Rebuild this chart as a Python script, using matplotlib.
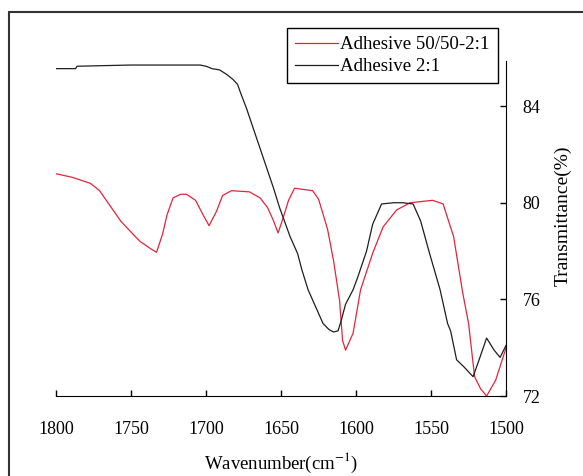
import matplotlib
matplotlib.use("Agg")
import matplotlib.pyplot as plt
from matplotlib.patches import Rectangle

plt.rcParams['font.family'] = ['Liberation Serif', 'DejaVu Serif']
plt.rcParams['mathtext.fontset'] = 'stix'

# FTIR spectra, wavenumber (cm-1) vs transmittance (%)
wn_black = [1800, 1787, 1786, 1750, 1704, 1700, 1696, 1691, 1686, 1682, 1679, 1677,
            1673, 1667, 1661, 1655, 1651, 1644, 1639, 1636, 1632, 1627, 1622, 1618,
            1615, 1612, 1610, 1607, 1602, 1599, 1593, 1589, 1583, 1575, 1569, 1562,
            1557, 1551, 1544, 1539, 1537, 1533, 1528, 1522, 1518, 1513, 1508, 1504, 1500]
tr_black = [85.55, 85.55, 85.65, 85.7, 85.7, 85.65, 85.55, 85.5, 85.3, 85.1, 84.9, 84.55,
            83.9, 82.8, 81.7, 80.6, 79.8, 78.6, 77.9, 77.2, 76.4, 75.7, 75.0, 74.75,
            74.65, 74.7, 75.1, 75.8, 76.4, 76.9, 78.0, 79.1, 79.95, 80.0, 80.0, 79.95,
            79.25, 77.9, 76.4, 75.0, 74.7, 73.5, 73.2, 72.8, 73.5, 74.4, 73.9, 73.6, 74.1]

wn_red = [1800, 1789, 1777, 1771, 1762, 1757, 1751, 1744, 1737, 1733, 1729, 1726, 1722,
          1717, 1713, 1707, 1702, 1698, 1693, 1689, 1683, 1671, 1664, 1659, 1655, 1652,
          1649, 1645, 1641, 1629, 1625, 1619, 1615, 1611, 1609, 1607, 1602, 1597, 1589,
          1582, 1573, 1564, 1549, 1542, 1535, 1529, 1525, 1521, 1517, 1513, 1507, 1500]
tr_red = [81.2, 81.05, 80.8, 80.5, 79.7, 79.25, 78.85, 78.4, 78.1, 77.95, 78.7, 79.5, 80.2,
          80.35, 80.35, 80.1, 79.5, 79.05, 79.65, 80.3, 80.5, 80.45, 80.2, 79.8, 79.25, 78.75,
          79.3, 80.1, 80.6, 80.5, 80.15, 78.9, 77.6, 75.95, 74.3, 73.9, 74.6, 76.4, 77.9,
          79.0, 79.7, 80.0, 80.1, 79.95, 78.6, 76.3, 75.0, 72.8, 72.3, 72.0, 72.65, 74.0]

x_ticks = [1800, 1750, 1700, 1650, 1600, 1550, 1500]
y_ticks = [72, 76, 80, 84]

fig = plt.figure(figsize=(5.83, 4.76), dpi=100)
ax = fig.add_axes([0.0961, 0.168, 0.772, 0.703])

ax.plot(wn_red, tr_red, color='#e0263c', lw=0.9, label='Adhesive 50/50-2:1')
ax.plot(wn_black, tr_black, color='#1e1e1e', lw=0.9, label='Adhesive 2:1')

ax.set_xlim(1800, 1500)
ax.set_ylim(72, 85.85)
ax.set_xticks(x_ticks)
ax.set_yticks(y_ticks)

ax.spines['top'].set_visible(False)
ax.spines['left'].set_visible(False)
ax.yaxis.tick_right()
ax.yaxis.set_label_position('right')
ax.tick_params(axis='x', direction='in', length=4.5, width=1, pad=18, labelsize=13)
ax.tick_params(axis='y', direction='in', length=4.5, width=1, pad=12, labelsize=13)

ax.set_xlabel('Wavenumber(cm$^{-1}$)', fontsize=13.5)
ax.xaxis.set_label_coords(0.5, -0.165)
ax.set_ylabel('Transmittance(%)', fontsize=14)
ax.yaxis.set_label_coords(1.107, 0.54)

leg = ax.legend(loc='upper left', bbox_to_anchor=(0.492, 0.941),
                bbox_transform=fig.transFigure, fontsize=13.6, frameon=True,
                fancybox=False, edgecolor='black', framealpha=1,
                handlelength=2.3, handletextpad=0.1, borderpad=0.42,
                labelspacing=0.25, borderaxespad=0)
leg.get_frame().set_linewidth(1.0)

# outer border round the figure
fig.patches.append(Rectangle((9 / 583, -0.1), 1.2, 1 - 12 / 476 + 0.1,
                             transform=fig.transFigure, fill=False,
                             edgecolor='#333333', lw=1.5, clip_on=False))

fig.savefig('out.png', dpi=100)
